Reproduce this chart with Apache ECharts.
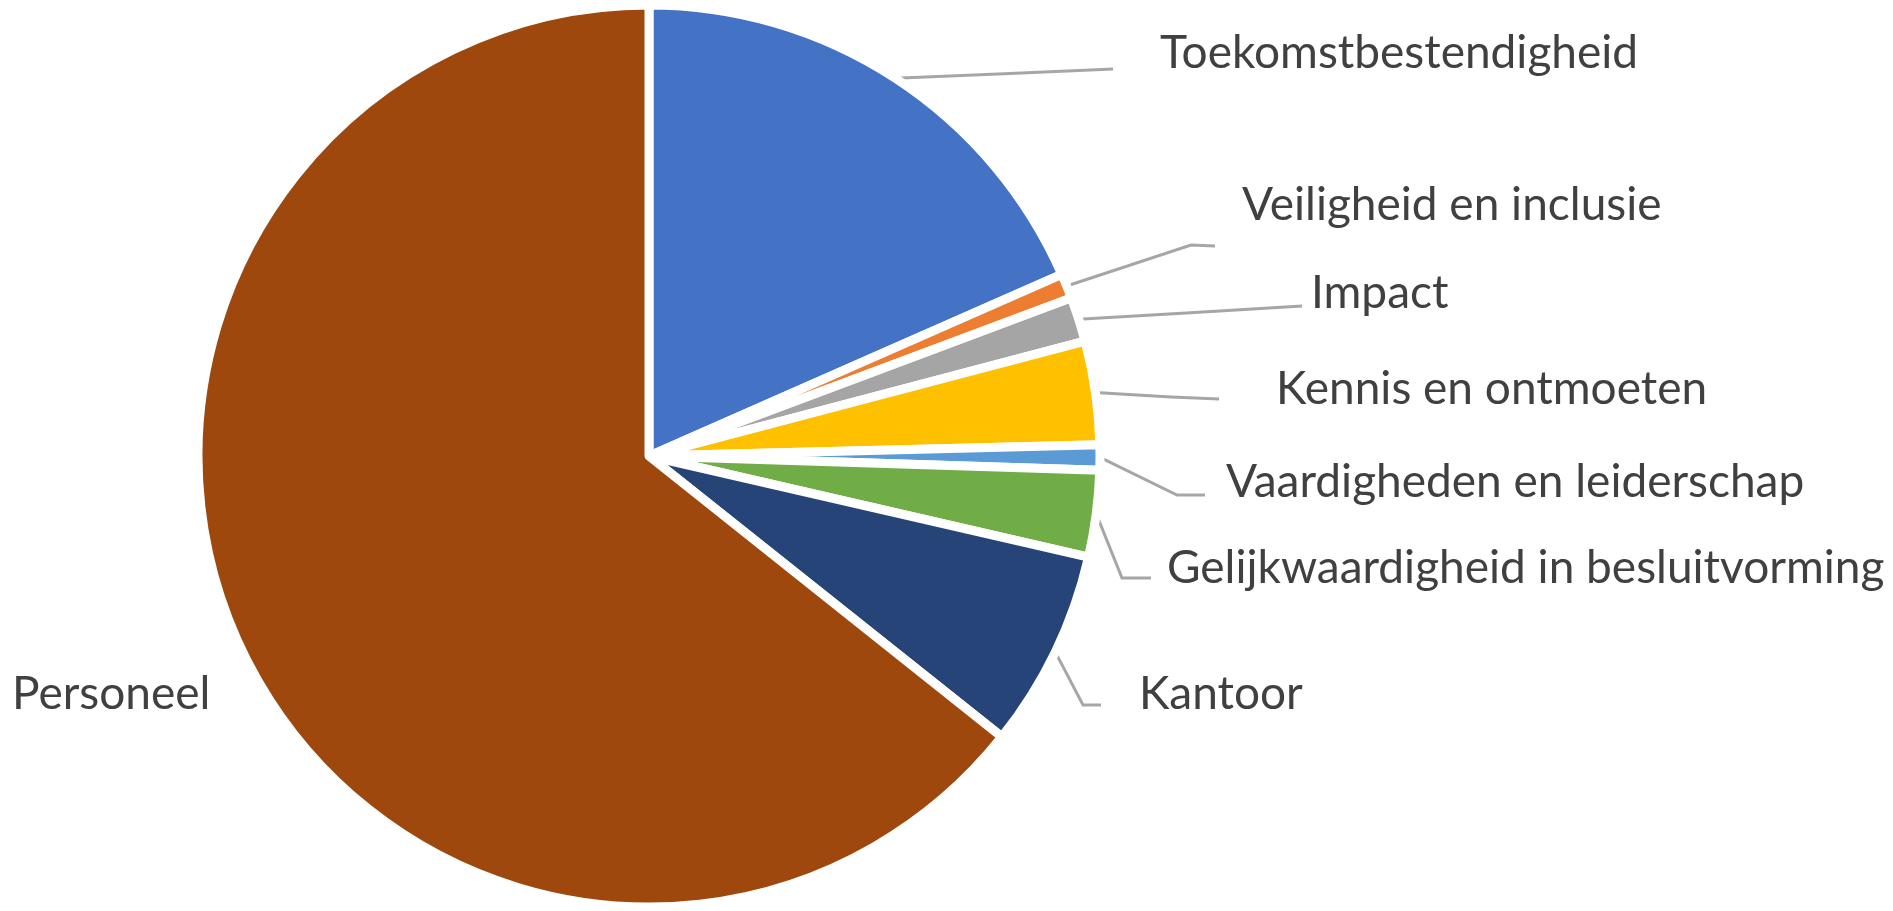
<!DOCTYPE html>
<html>
<head>
<meta charset="utf-8">
<title>Verdeling begroting</title>
<script src="https://cdn.jsdelivr.net/npm/echarts@6.0.0/dist/echarts.min.js"></script>
<style>
	html, body { margin: 0; padding: 0; background: #ffffff; }
	#chart { width: 1893px; height: 911px; }
</style>
</head>
<body>
<div id="chart"></div>
<script>
// categorieen, met de klok mee vanaf 12 uur
var categories = [
	"Toekomstbestendigheid",
	"Veiligheid en inclusie",
	"Impact",
	"Kennis en ontmoeten",
	"Vaardigheden en leiderschap",
	"Gelijkwaardigheid in besluitvorming",
	"Kantoor",
	"Personeel"
];

// aandeel per categorie in procenten
var shares = [18.4, 0.9, 1.6, 3.7, 0.9, 3.1, 7.1, 64.3];

// Office kleuren
var sliceColors = ["#4472c4", "#ed7d31", "#a5a5a5", "#ffc000", "#5b9bd5", "#70ad47", "#264478", "#9e480e"];

/*
 * plek van de labels (links/midden van de tekst) en knik + eind van de lijn.
 * het beginpunt van de lijn komt van echarts zelf.
 */
var labelSpots = [
	{ x: 1160, y: 53, elbow: null, end: [1113, 69] },
	{ x: 1242, y: 205, elbow: [1191, 245], end: [1215, 246] },
	{ x: 1311, y: 293, elbow: null, end: [1302, 306] },
	{ x: 1276, y: 389, elbow: [1171, 397], end: [1219, 399] },
	{ x: 1226, y: 482, elbow: [1177, 495], end: [1205, 495] },
	{ x: 1167, y: 568, elbow: [1122, 578], end: [1151, 578] },
	{ x: 1139, y: 694, elbow: [1083, 705], end: [1101, 705] },
	{ x: 12, y: 694, elbow: null, end: null }
];

var voChart = null;

function placeLabel(params) {
	var spot = labelSpots[params.dataIndex];
	var out = {
		x: spot.x,
		y: spot.y,
		align: "left",
		verticalAlign: "middle"
	};
	var pts = params.labelLinePoints;
	if (pts && spot.end) {
		var start = pts[0];
		var elbow = spot.elbow || [(start[0] + spot.end[0]) / 2, (start[1] + spot.end[1]) / 2];
		out.labelLinePoints = [start, elbow, spot.end];
	}
	return out;
}

function drawChart() {
	voChart = echarts.init(document.getElementById("chart"));

	var pieData = categories.map(function(name, i) {
		var item = { name: name, value: shares[i] };
		if (name == "Personeel") {
			item.labelLine = { show: false };
		}
		return item;
	});

	var voOption = {
		animation: false,
		color: sliceColors,
		series: [{
			type: "pie",
			center: [649, 456],
			radius: 451,
			startAngle: 90,
			clockwise: true,
			avoidLabelOverlap: false,
			itemStyle: {
				borderColor: "#ffffff",
				borderWidth: 9
			},
			label: {
				show: true,
				position: "outside",
				formatter: "{b}",
				fontFamily: "Lato",
				fontSize: 46,
				color: "#404040",
				overflow: "none"
			},
			labelLine: {
				show: true,
				lineStyle: { color: "#a6a6a6", width: 3 }
			},
			labelLayout: placeLabel,
			emphasis: { disabled: true },
			data: pieData
		}]
	};

	voChart.setOption(voOption);
}

drawChart();

window.addEventListener("resize", function() {
	if (voChart) voChart.resize();
});
</script>
</body>
</html>
